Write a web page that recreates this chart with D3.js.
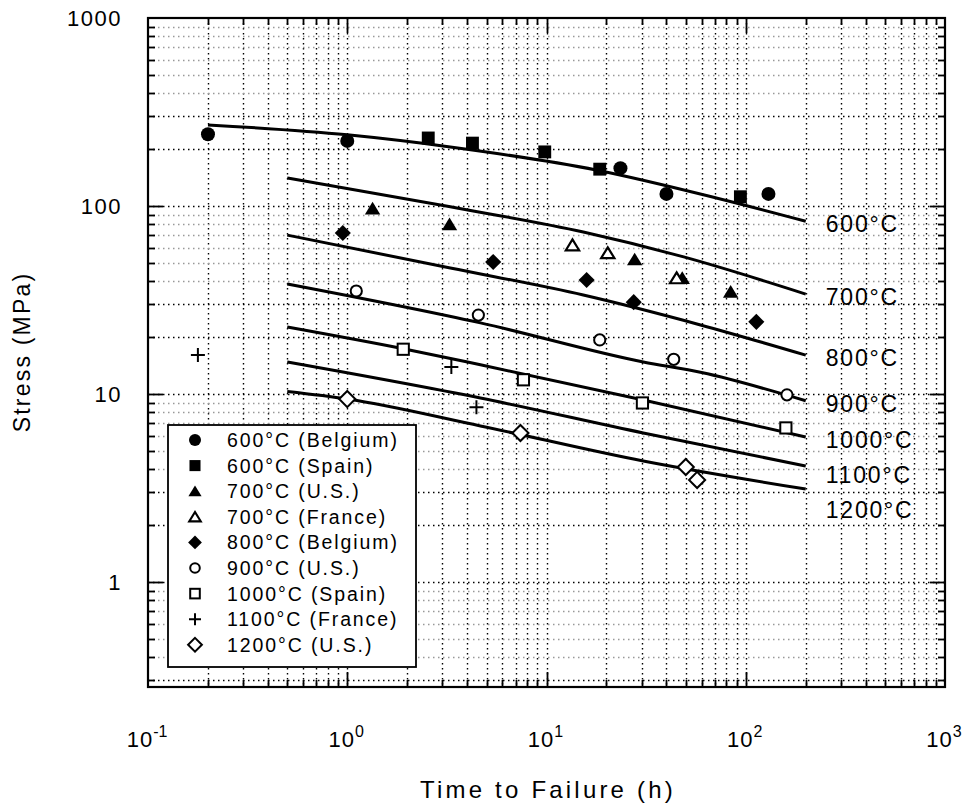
<!DOCTYPE html>
<html>
<head>
<meta charset="utf-8">
<script src="https://cdn.jsdelivr.net/npm/d3@7"></script>
<style>
  body { margin: 0; background: #fff; }
  svg { font-family: "Liberation Sans", Arial, Helvetica, sans-serif; }
</style>
</head>
<body>
<div id="graph"></div>
<script>
// rupture data (time h, stress MPa)
var bel600 = [[0.2, 241], [1.0, 222], [23.5, 159], [40, 116], [130, 116]];
var spa600 = [[2.55, 230], [4.25, 216], [9.8, 194], [18.5, 157], [94, 112]];
var us700 = [[1.34, 97], [3.26, 80], [27.7, 52], [48, 41.4], [84, 35]];
var fra700 = [[13.5, 62], [20.3, 56.3], [45, 41.4]];
var bel800 = [[0.95, 71.8], [5.4, 50.4], [15.9, 40.4], [27.4, 30.8], [113, 24.2]];
var us900 = [[1.11, 35.3], [4.55, 26.3], [18.5, 19.4], [43.5, 15.3], [161, 9.9]];
var spa1000 = [[1.91, 17.3], [7.66, 11.9], [30.3, 8.96], [159, 6.6]];
var fra1100 = [[0.178, 16.1], [3.33, 13.9], [4.45, 8.5]];
var us1200 = [[1.0, 9.4], [7.4, 6.2], [50, 4.09], [57, 3.49]];

// fitted curves
var fit600 = [[0.2, 270], [1, 239], [3.29, 206], [18, 155], [72, 110], [200, 83]];
var fit700 = [[0.5, 141], [3.29, 99], [15.3, 72.7], [48.8, 53.6], [200, 34]];
var fit800 = [[0.5, 70], [3.29, 46.8], [15.3, 33.6], [59.3, 23.3], [200, 16.1]];
var fit900 = [[0.5, 38.5], [4.66, 23.9], [30.6, 14.8], [60, 13], [200, 9.2]];
var fit1000 = [[0.5, 22.7], [1.91, 17.4], [4.66, 14.3], [30.6, 9.3], [200, 5.9]];
var fit1100 = [[0.5, 14.8], [4.66, 9.52], [30.6, 6.2], [200, 4.14]];
var fit1200 = [[0.5, 10.3], [1, 9.4], [4.66, 6.76], [30.6, 4.4], [200, 3.12]];

var curveNames = ["600°C", "700°C", "800°C", "900°C", "1000°C", "1100°C", "1200°C"];
var curves = [fit600, fit700, fit800, fit900, fit1000, fit1100, fit1200];

var legendNames = ["600°C (Belgium)", "600°C (Spain)", "700°C (U.S.)", "700°C (France)",
  "800°C (Belgium)", "900°C (U.S.)", "1000°C (Spain)", "1100°C (France)", "1200°C (U.S.)"];
var legendMarks = ["dot", "sq", "tri", "otri", "dia", "odot", "osq", "plus", "odia"];
var series = [bel600, spa600, us700, fra700, bel800, us900, spa1000, fra1100, us1200];

var xDecades = [0.1, 1, 10, 100, 1000];
var xTickText = ["-1", "0", "1", "2", "3"];
var yDecades = [1, 10, 100, 1000];
var yTickText = ["1", "10", "100", "1000"];

var L = 148, R = 945, T = 18, B = 687;

var svg = d3.select("#graph")
  .append("svg")
  .attr("width", 966)
  .attr("height", 810);

var x = d3.scaleLog().domain([0.1, 1000]).range([L, R]);
var y = d3.scaleLog().domain([1, 1000]).range([582, T]);
var yBottom = y.invert(B);

// minor values
var xMinor = [], yMinor = [];
for (var d = 0.1; d < 1000; d *= 10) {
  for (var k = 2; k <= 9; k++) xMinor.push(+(d * k).toPrecision(3));
}
for (var d2 = 0.1; d2 < 1000; d2 *= 10) {
  for (var k2 = 2; k2 <= 9; k2++) {
    var v = +(d2 * k2).toPrecision(3);
    if (v > yBottom) yMinor.push({v: v, k: k2});
  }
}

var px = function(v) { return Math.round(v) + 0.5; };

var grid = svg.append("g");
// vertical grid
grid.selectAll(".gx")
  .data(xMinor.concat([1, 10, 100]))
  .enter()
  .append("line")
  .attr("x1", function(d) { return px(x(d)); })
  .attr("x2", function(d) { return px(x(d)); })
  .attr("y1", T)
  .attr("y2", B)
  .attr("stroke", "#000")
  .attr("stroke-width", 1.4)
  .attr("stroke-dasharray", "1.5,3.5");
// horizontal grid
grid.selectAll(".gy")
  .data(yMinor)
  .enter()
  .append("line")
  .attr("x1", L)
  .attr("x2", R)
  .attr("y1", function(d) { return px(y(d.v)); })
  .attr("y2", function(d) { return px(y(d.v)); })
  .attr("stroke", function(d) { return d.k <= 3 ? "#000" : "#999"; })
  .attr("stroke-width", 1.4)
  .attr("stroke-dasharray", "1.5,3.5");
grid.selectAll(".gyd")
  .data([1, 10, 100])
  .enter()
  .append("line")
  .attr("x1", L)
  .attr("x2", R)
  .attr("y1", function(d) { return px(y(d)); })
  .attr("y2", function(d) { return px(y(d)); })
  .attr("stroke", "#000")
  .attr("stroke-width", 1.4)
  .attr("stroke-dasharray", "1.5,3.5");

// ticks (inside, all four sides)
var ticks = svg.append("g").attr("stroke", "#000").attr("stroke-width", 1.8);
var xt = xMinor.map(function(v) { return {v: v, len: 7}; })
  .concat([1, 10, 100].map(function(v) { return {v: v, len: 15}; }));
xt.forEach(function(t) {
  ticks.append("line").attr("x1", px(x(t.v))).attr("x2", px(x(t.v))).attr("y1", B).attr("y2", B - t.len);
  ticks.append("line").attr("x1", px(x(t.v))).attr("x2", px(x(t.v))).attr("y1", T).attr("y2", T + t.len);
});
var yt = yMinor.map(function(d) { return {v: d.v, len: 7}; })
  .concat([1, 10, 100].map(function(v) { return {v: v, len: 15}; }));
yt.forEach(function(t) {
  ticks.append("line").attr("y1", px(y(t.v))).attr("y2", px(y(t.v))).attr("x1", L).attr("x2", L + t.len);
  ticks.append("line").attr("y1", px(y(t.v))).attr("y2", px(y(t.v))).attr("x1", R).attr("x2", R - t.len);
});

// frame
svg.append("rect")
  .attr("x", L).attr("y", T)
  .attr("width", R - L).attr("height", B - T)
  .attr("fill", "none")
  .attr("stroke", "#000")
  .attr("stroke-width", 2.2);

// fitted lines
var line = d3.line()
  .x(function(d) { return x(d[0]); })
  .y(function(d) { return y(d[1]); })
  .curve(d3.curveMonotoneX);

svg.selectAll(".fit")
  .data(curves)
  .enter()
  .append("path")
  .attr("class", "fit")
  .attr("d", line)
  .attr("fill", "none")
  .attr("stroke", "#000")
  .attr("stroke-width", 3);

// curve labels, pushed apart so they don't collide
var prevY = -1e9;
curves.forEach(function(c, i) {
  var last = c[c.length - 1];
  var ly = Math.max(y(last[1]) + 3, prevY + 35);
  prevY = ly;
  svg.append("text")
    .attr("x", x(last[0]) + 20)
    .attr("y", ly)
    .attr("dy", "0.35em")
    .attr("font-size", 23)
    .attr("letter-spacing", 1.8)
    .text(curveNames[i]);
});

// marker drawing
function marker(g, type, s) {
  var r = s;
  if (type == "dot") {
    g.append("circle").attr("r", r).attr("fill", "#000");
  } else if (type == "odot") {
    g.append("circle").attr("r", r * 0.8).attr("fill", "#fff").attr("stroke", "#000").attr("stroke-width", 2);
  } else if (type == "sq") {
    g.append("rect").attr("x", -r * 0.92).attr("y", -r * 0.92).attr("width", r * 1.84).attr("height", r * 1.84).attr("fill", "#000");
  } else if (type == "osq") {
    g.append("rect").attr("x", -r * 0.8).attr("y", -r * 0.8).attr("width", r * 1.6).attr("height", r * 1.6)
      .attr("fill", "#fff").attr("stroke", "#000").attr("stroke-width", 2);
  } else if (type == "tri" || type == "otri") {
    var p = "M0," + (-r * 0.95) + "L" + (r * 1.1) + "," + (r * 0.85) + "L" + (-r * 1.1) + "," + (r * 0.85) + "Z";
    if (type == "tri") g.append("path").attr("d", p).attr("fill", "#000");
    else g.append("path").attr("d", "M0," + (-r * 0.8) + "L" + (r * 0.95) + "," + (r * 0.75) + "L" + (-r * 0.95) + "," + (r * 0.75) + "Z")
      .attr("fill", "#fff").attr("stroke", "#000").attr("stroke-width", 2.2);
  } else if (type == "dia" || type == "odia") {
    var q = r * 1.15;
    var pd = "M0," + (-q) + "L" + q + ",0L0," + q + "L" + (-q) + ",0Z";
    if (type == "dia") g.append("path").attr("d", pd).attr("fill", "#000");
    else g.append("path").attr("d", pd).attr("fill", "#fff").attr("stroke", "#000").attr("stroke-width", 2);
  } else if (type == "plus") {
    g.append("path").attr("d", "M" + (-r) + ",0H" + r + "M0," + (-r) + "V" + r)
      .attr("stroke", "#000").attr("stroke-width", 2);
  }
}

series.forEach(function(s, i) {
  s.forEach(function(p) {
    var g = svg.append("g").attr("transform", "translate(" + x(p[0]) + "," + y(p[1]) + ")");
    marker(g, legendMarks[i], 7);
  });
});

// legend
var lg = svg.append("g");
lg.append("rect")
  .attr("x", 168).attr("y", 425)
  .attr("width", 248).attr("height", 242)
  .attr("fill", "#fff")
  .attr("stroke", "#000")
  .attr("stroke-width", 1.8);
legendNames.forEach(function(n, i) {
  var ry = 440 + i * 25.6;
  var g = lg.append("g").attr("transform", "translate(195," + ry + ")");
  marker(g, legendMarks[i], 6);
  lg.append("text")
    .attr("x", 227).attr("y", ry)
    .attr("dy", "0.36em")
    .attr("font-size", 19.5)
    .attr("letter-spacing", 1.9)
    .text(n);
});

// y tick labels
yDecades.forEach(function(v, i) {
  svg.append("text")
    .attr("x", 122).attr("y", y(v))
    .attr("dy", "0.36em")
    .attr("text-anchor", "end")
    .attr("font-size", 22)
    .attr("letter-spacing", 1.5)
    .text(yTickText[i]);
});

// x tick labels 10^n
xDecades.forEach(function(v, i) {
  var t = svg.append("text")
    .attr("x", x(v) - 1).attr("y", 747)
    .attr("text-anchor", "middle")
    .attr("font-size", 22)
    .attr("letter-spacing", 1);
  t.append("tspan").text("10");
  t.append("tspan").attr("font-size", 16).attr("dy", -10).attr("letter-spacing", 0).text(xTickText[i]);
});

// axis titles
svg.append("text")
  .attr("x", 548).attr("y", 798)
  .attr("text-anchor", "middle")
  .attr("font-size", 24)
  .attr("letter-spacing", 3.2)
  .text("Time to Failure (h)");

svg.append("text")
  .attr("transform", "translate(30,352) rotate(-90)")
  .attr("text-anchor", "middle")
  .attr("font-size", 23)
  .attr("letter-spacing", 2.2)
  .text("Stress (MPa)");
</script>
</body>
</html>
